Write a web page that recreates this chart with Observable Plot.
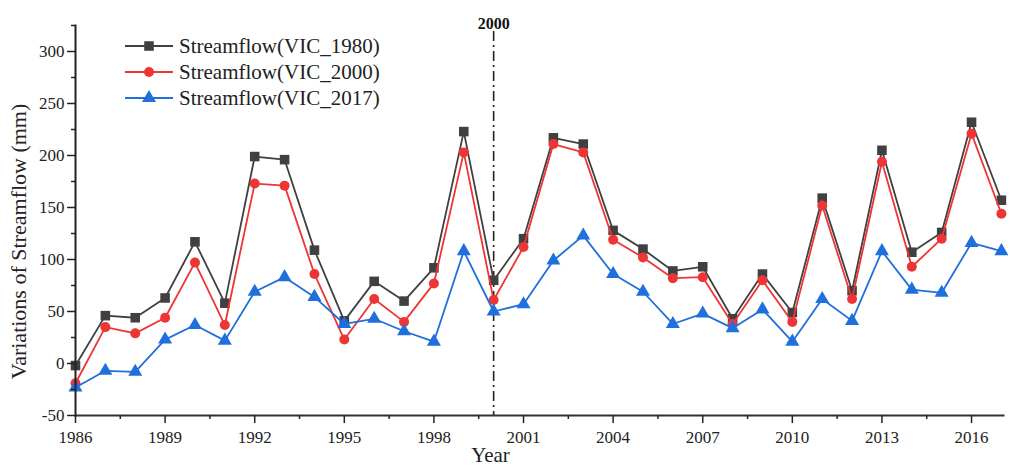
<!DOCTYPE html>
<html><head><meta charset="utf-8">
<script src="https://cdn.jsdelivr.net/npm/d3@7"></script>
<script src="https://cdn.jsdelivr.net/npm/@observablehq/plot@0.6"></script>
<style>
body{margin:0;background:#fff;}
#wrap{position:relative;width:1010px;height:468px;font-family:"Liberation Serif","Times New Roman",serif;}
#legend{position:absolute;left:125px;top:33px;}
.row{display:flex;align-items:center;height:26px;font-size:21px;color:#222;white-space:nowrap}
.row svg{margin-right:6px}
</style></head><body><div id="wrap"><div id="legend"></div></div>
<script>
const years = [1986,1987,1988,1989,1990,1991,1992,1993,1994,1995,1996,1997,1998,1999,2000,2001,2002,2003,2004,2005,2006,2007,2008,2009,2010,2011,2012,2013,2014,2015,2016,2017];
const vic1980 = [-2,46,44,63,117,58,199,196,109,41,79,60,92,223,80,120,217,211,128,110,89,93,43,86,49,159,70,205,107,126,232,157];
const vic2000 = [-19,35,29,44,97,37,173,171,86,23,62,40,77,203,61,112,211,203,119,102,82,83,38,80,40,152,62,194,93,120,221,144];
const vic2017 = [-23,-7,-8,23,37,22,69,83,64,38,43,31,21,108,50,57,99,123,86,69,38,48,34,52,21,62,41,108,71,68,116,108];
const seriesNames = ["Streamflow(VIC_1980)","Streamflow(VIC_2000)","Streamflow(VIC_2017)"];
const seriesColors = ["#404040","#ee3535","#1f6fdc"];
const seriesSymbols = ["square","circle","triangle"];
const xMajorTicks = [1986,1989,1992,1995,1998,2001,2004,2007,2010,2013,2016];
const xMinorTicks = [1987.5,1990.5,1993.5,1996.5,1999.5,2002.5,2005.5,2008.5,2011.5,2014.5];
const yMajorTicks = [-50,0,50,100,150,200,250,300];
const yMinorTicks = [-25,25,75,125,175,225,275,325];
const markerYear = [2000];
const xLabel = "Year";
const yLabel = "Variations of Streamflow (mm)";

const FONT = '"Liberation Serif","Times New Roman",serif';
const allSeries = [vic1980, vic2000, vic2017].map((vals, k) =>
  years.map((y, i) => ({year: y, value: vals[i], k})));
const symR = [5.4, 5, 5.2];

const marks = [
  Plot.ruleX(markerYear, {stroke: "#222", strokeWidth: 1.6, strokeDasharray: "10,4,2,4", insetTop: 6}),
  Plot.text(markerYear, {x: d => d, frameAnchor: "top", dy: -8, text: d => String(d), fontWeight: "bold", fontSize: 16, fontFamily: FONT, fill: "#111"})
];
allSeries.forEach((data, k) => {
  marks.push(Plot.line(data, {x: "year", y: "value", stroke: seriesColors[k], strokeWidth: 1.8}));
  marks.push(Plot.dot(data, {x: "year", y: "value", fill: seriesColors[k], symbol: seriesSymbols[k], r: symR[k], stroke: "none"}));
});
marks.push(
  Plot.frame({anchor: "bottom", stroke: "#333", strokeWidth: 2}),
  Plot.frame({anchor: "left", stroke: "#222", strokeWidth: 2}),
  Plot.axisX({ticks: xMajorTicks, tickSize: 8, text: null, label: null, strokeWidth: 1.5, stroke: "#222"}),
  Plot.axisX({ticks: xMinorTicks, tickSize: 4, text: null, label: null, strokeWidth: 1.5, stroke: "#222"}),
  Plot.axisY({ticks: yMajorTicks, tickSize: 8, text: null, label: null, strokeWidth: 1.5, stroke: "#222"}),
  Plot.axisY({ticks: yMinorTicks, tickSize: 4, text: null, label: null, strokeWidth: 1.5, stroke: "#222"}),
  Plot.text(xMajorTicks, {x: d => d, frameAnchor: "bottom", dy: 22, text: d => String(d), fontSize: 17, fontFamily: FONT, textAnchor: "middle", lineAnchor: "middle", fill: "#222"}),
  Plot.text(yMajorTicks, {y: d => d, frameAnchor: "left", dx: -11, text: d => String(d), fontSize: 17, fontFamily: FONT, textAnchor: "end", lineAnchor: "middle", fill: "#222"}),
  Plot.text([xLabel], {frameAnchor: "bottom", dx: -49, dy: 40, text: d => d, fontSize: 21, fontFamily: FONT, textAnchor: "middle", lineAnchor: "middle", fill: "#222"}),
  Plot.text([yLabel], {frameAnchor: "left", dx: -57, dy: 21, rotate: -90, text: d => d, fontSize: 22, fontFamily: FONT, textAnchor: "middle", lineAnchor: "middle", fill: "#222"})
);

const chart = Plot.plot({
  width: 1010, height: 468,
  marginLeft: 75, marginRight: 7, marginTop: 25, marginBottom: 53,
  x: {domain: [1986, 2017.07]},
  y: {domain: [-50, 325]},
  style: {fontFamily: FONT, fontSize: "17px", color: "#222", background: "#fff"},
  marks
});
document.getElementById("wrap").prepend(chart);

const legend = document.getElementById("legend");
seriesNames.forEach((name, k) => {
  const row = document.createElement("div");
  row.className = "row";
  const sw = d3.create("svg").attr("width", 48).attr("height", 20);
  sw.append("line").attr("x1", 0).attr("x2", 48).attr("y1", 10).attr("y2", 10).attr("stroke", seriesColors[k]).attr("stroke-width", 2);
  const symType = [d3.symbolSquare, d3.symbolCircle, d3.symbolTriangle][k];
  sw.append("path").attr("transform", "translate(24,10)").attr("d", d3.symbol(symType, Math.PI * symR[k] * symR[k])()).attr("fill", seriesColors[k]);
  row.appendChild(sw.node());
  const t = document.createElement("span");
  t.textContent = name;
  row.appendChild(t);
  legend.appendChild(row);
});
</script></body></html>
